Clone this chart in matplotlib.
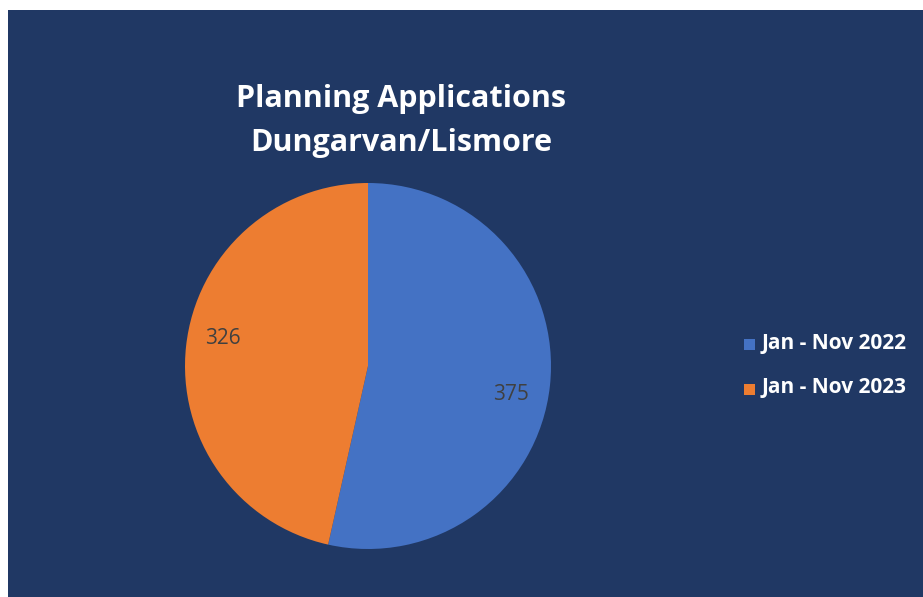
import matplotlib.pyplot as plt
from matplotlib.patches import Rectangle

labels = ['Jan - Nov 2022', 'Jan - Nov 2023']
values = [375, 326]
colors = ['#4472C4', '#ED7D31']
title = 'Planning Applications\nDungarvan/Lismore'

W, H = 923, 597
fig = plt.figure(figsize=(W / 100, H / 100), dpi=100)
fig.patch.set_facecolor('white')

# navy chart area (white strip on top and left)
fig.add_artist(Rectangle((8 / W, 0), 1 - 8 / W, (H - 10) / H,
                         transform=fig.transFigure, facecolor='#203864',
                         edgecolor='none', zorder=0))

# pie centre ~(368, 366), radius ~183 px
cx, cy, r = 368, 366, 183
ax = fig.add_axes([(cx - r) / W, (H - cy - r) / H, 2 * r / W, 2 * r / H])
wedges, texts = ax.pie(values, colors=colors, startangle=90, counterclock=False,
                       wedgeprops=dict(linewidth=0))
ax.set_aspect('equal')
ax.set_xlim(-1, 1)
ax.set_ylim(-1, 1)

# data labels
lbl_pos = [(511, 395), (223, 338)]
for v, (px, py) in zip(values, lbl_pos):
    fig.text(px / W, 1 - py / H, str(v), ha='center', va='center',
             fontsize=15, color='#404040', family='Open Sans')

fig.text(401 / W, 1 - 121 / H, title, ha='center', va='center',
         fontsize=22, fontweight='bold', color='white', family='Open Sans',
         linespacing=1.62)

# legend
for lab, col, py in zip(labels, colors, [344, 389]):
    fig.add_artist(Rectangle((744 / W, 1 - (py + 5.5) / H), 11 / W, 11 / H,
                             transform=fig.transFigure, facecolor=col,
                             edgecolor='none'))
    fig.text(762 / W, 1 - (py - 1) / H, lab, ha='left', va='center',
             fontsize=15, fontweight='bold', color='white', family='Open Sans')

fig.savefig('out.png', dpi=100, facecolor=fig.get_facecolor())
